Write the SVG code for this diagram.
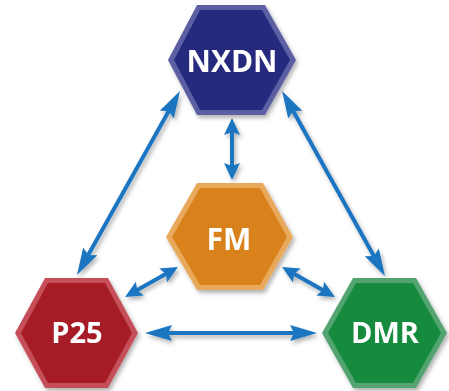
<svg xmlns="http://www.w3.org/2000/svg" width="449" height="391" viewBox="0 0 449 391">
<defs>
<style>
.lbl{font-family:"Open Sans","Liberation Sans",sans-serif;font-weight:700;fill:#ffffff;text-anchor:middle}
.arr{stroke:#1b75c1;stroke-width:4;fill:none}
.long{marker-start:url(#hl);marker-end:url(#hl)}
.short{marker-start:url(#hs);marker-end:url(#hs)}
</style>
<filter id="sh" x="-20%" y="-20%" width="140%" height="140%">
<feDropShadow dx="2" dy="3" stdDeviation="2" flood-color="#000" flood-opacity="0.3"/>
</filter>
<marker id="hl" markerUnits="userSpaceOnUse" orient="auto-start-reverse" viewBox="0 0 27 16" refX="17" refY="8" markerWidth="27" markerHeight="16">
<path d="M27,8 L0,0 L4,8 L0,16 z" fill="#1b75c1"/>
</marker>
<marker id="hs" markerUnits="userSpaceOnUse" orient="auto-start-reverse" viewBox="0 0 17 16" refX="9" refY="8" markerWidth="17" markerHeight="16">
<path d="M17,8 L0,0 L3,8 L0,16 z" fill="#1b75c1"/>
</marker>
</defs>
<rect width="449" height="391" fill="#ffffff"/>
<g id="connectors" filter="url(#sh)">
<line class="arr long" x1="81.9" y1="266.3" x2="175.1" y2="99.7"/>
<line class="arr long" x1="286.9" y1="99.7" x2="380.1" y2="267.3"/>
<line class="arr long" x1="155" y1="333" x2="307" y2="333"/>
<line class="arr short" x1="232" y1="126" x2="232" y2="172"/>
<line class="arr short" x1="132" y1="293.1" x2="171" y2="270.9"/>
<line class="arr short" x1="289" y1="270.9" x2="328" y2="293.1"/>
</g>
<g id="nxdn" filter="url(#sh)">
<polygon points="197,5 265,5 296,60 265,115 197,115 168,60" fill="#5c60a3"/>
<polygon points="200,10 262,10 290,60 262,110 200,110 174,60" fill="#272b7e"/>
<text class="lbl" x="232" y="72" font-size="30">NXDN</text>
</g>
<g id="fm" filter="url(#sh)">
<polygon points="197,183 263,183 293,237 263,290 197,290 166,237" fill="#e9a95c"/>
<polygon points="200,188 260,188 287,237 260,285 200,285 172,237" fill="#d9821c"/>
<text class="lbl" x="229" y="250" font-size="30">FM</text>
</g>
<g id="p25" filter="url(#sh)">
<polygon points="45,278 108,278 138,333 108,388 45,388 15,333" fill="#c44f58"/>
<polygon points="48,283 105,283 132,333 105,383 48,383 21,333" fill="#a51b25"/>
<text class="lbl" x="77" y="343" font-size="29">P25</text>
</g>
<g id="dmr" filter="url(#sh)">
<polygon points="353,278 416,278 447,333 416,388 353,388 322,333" fill="#52a470"/>
<polygon points="356,283 413,283 441,333 413,383 356,383 328,333" fill="#138b3e"/>
<text class="lbl" x="385" y="343" font-size="29">DMR</text>
</g>
</svg>
